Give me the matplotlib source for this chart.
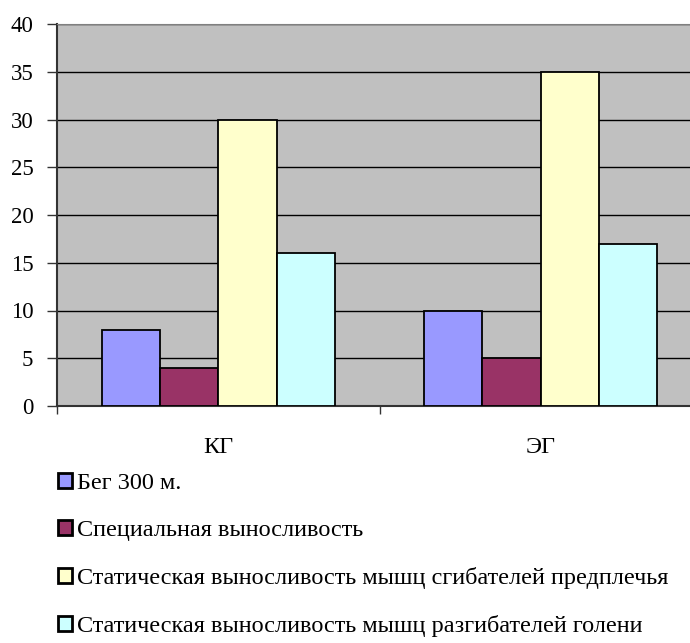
import matplotlib
matplotlib.use("Agg")
import matplotlib.pyplot as plt
import numpy as np

plt.rcParams['font.family'] = ['Liberation Serif', 'DejaVu Serif']

# data
groups = ["КГ", "ЭГ"]
series_names = [
    "Бег 300 м.",
    "Специальная выносливость",
    "Статическая выносливость мышц сгибателей предплечья",
    "Статическая выносливость мышц разгибателей голени",
]
beg_300 = [8, 10]
spec_vynos = [4, 5]
stat_sgib = [30, 35]
stat_razgib = [16, 17]
colors = ["#9999FF", "#993366", "#FFFFCC", "#CCFFFF"]
yticks = [0, 5, 10, 15, 20, 25, 30, 35, 40]

fig = plt.figure(figsize=(6.9, 6.43), dpi=100)
ax = fig.add_axes([57 / 690, 1 - 406 / 643, (702 - 57) / 690, (406 - 24) / 643])
ax.set_facecolor("#C0C0C0")

x = np.arange(len(groups))
width = 0.181
all_series = [beg_300, spec_vynos, stat_sgib, stat_razgib]
for i, vals in enumerate(all_series):
    ax.bar(x + (i - 1.5) * width, vals, width, color=colors[i],
           edgecolor="black", linewidth=1.3, label=series_names[i], zorder=3)

ax.set_xlim(-0.5, 1.5)
ax.set_ylim(0, 40)
ax.set_yticks(yticks)
ax.set_yticklabels([str(v) for v in yticks], fontfamily="Liberation Serif", fontsize=16.5)
ax.yaxis.grid(True, color="black", linewidth=1.0, zorder=1)
ax.set_axisbelow(True)

# category labels, tick marks between categories
ax.set_xticks([-0.5, 0.5, 1.5])
ax.set_xticklabels([])
ax.set_xticks(x, minor=True)
ax.set_xticklabels(groups, minor=True, fontsize=17.5, fontfamily="Liberation Serif")
ax.tick_params(axis="x", which="minor", length=0, pad=22)
ax.tick_params(axis="x", which="major", length=6, width=1, color="#333333")
ax.tick_params(axis="y", length=7, width=1, color="#333333", pad=10)

for side in ["top", "right"]:
    ax.spines[side].set_color("#808080")
ax.spines["left"].set_color("#333333")
ax.spines["left"].set_linewidth(1.5)
ax.spines["bottom"].set_color("#333333")
ax.spines["bottom"].set_linewidth(1.5)

leg = fig.legend(loc="upper left", bbox_to_anchor=(48 / 690, 1 - 463 / 643),
                 frameon=False, prop={"family": "Liberation Serif", "size": 17.5},
                 handlelength=0.58, handleheight=0.58,
                 handletextpad=0.2, labelspacing=1.07, borderaxespad=0)
for h in leg.legend_handles:
    h.set_linewidth(2.0)

fig.savefig("out.png", dpi=100)
